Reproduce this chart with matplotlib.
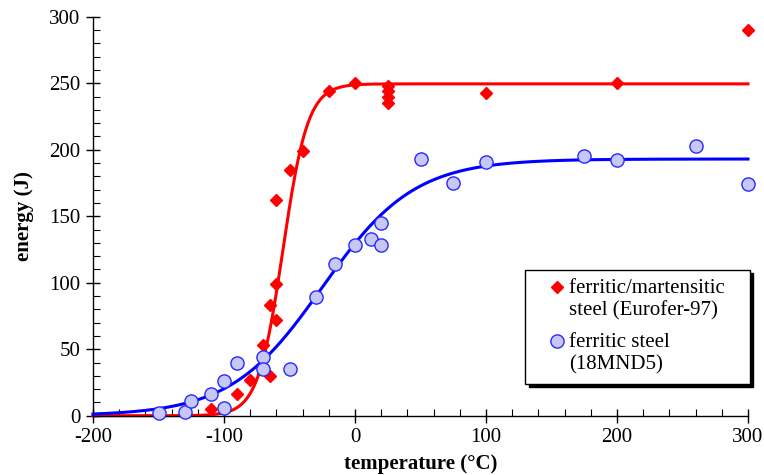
import numpy as np
import matplotlib
matplotlib.use("Agg")
import matplotlib.pyplot as plt
from matplotlib.ticker import MultipleLocator
from matplotlib.legend_handler import HandlerLine2D

# ---- data ----
red_T = [-110, -90, -80, -70, -65, -65, -60, -60, -60, -50, -40, -20, 0,
         25, 25, 25, 25, 100, 200, 300]
red_E = [5, 16, 27, 53, 30, 83, 99, 72, 162, 185, 199, 244, 250,
         248, 244, 240, 235, 243, 250, 290]

blue_T = [-150, -130, -125, -110, -100, -100, -90, -70, -70, -50, -30, -15,
          0, 12.5, 20, 20, 50, 75, 100, 175, 200, 260, 300]
blue_E = [2, 3, 11, 16, 26, 6, 40, 44, 35, 35, 89, 114,
          128, 133, 145, 128, 193, 175, 191, 195, 192, 203, 174]

# tanh fit parameters (lower shelf, upper shelf, transition T0, width C)
red_fit = dict(lower=0.0, upper=249.5, T0=-55.0, C=19.0)
blue_fit = dict(lower=0.0, upper=193.0, T0=-25.0, C=70.0)

labels = ["ferritic/martensitic   \nsteel (Eurofer-97)", "ferritic steel\n(18MND5)"]
xticks = [-200, -100, 0, 100, 200, 300]
yticks = [0, 50, 100, 150, 200, 250, 300]


def tanh_curve(T, p):
    a = (p["upper"] + p["lower"]) / 2
    b = (p["upper"] - p["lower"]) / 2
    return a + b * np.tanh((T - p["T0"]) / p["C"])


class TopHandler(HandlerLine2D):
    """Place the legend marker next to the first line of a two-line label."""
    def __init__(self, xshift, yshift, **kw):
        super().__init__(**kw)
        self.xshift = xshift
        self.yshift = yshift

    def create_artists(self, legend, orig_handle, xdescent, ydescent,
                       width, height, fontsize, trans):
        arts = super().create_artists(legend, orig_handle, xdescent, ydescent,
                                      width, height, fontsize, trans)
        for a in arts:
            y = np.asarray(a.get_ydata(), dtype=float)
            x = np.asarray(a.get_xdata(), dtype=float)
            a.set_ydata(y + self.yshift * fontsize)
            a.set_xdata(x + self.xshift * fontsize)
        return arts


plt.rcParams['font.family'] = ['Liberation Serif', 'DejaVu Serif']
plt.rcParams['axes.unicode_minus'] = False

fig = plt.figure(figsize=(7.64, 4.75), dpi=100)
ax = fig.add_axes([93 / 764, 1 - 415.7 / 475, (748 - 93) / 764, (415.7 - 16.7) / 475])

T = np.linspace(-200, 300, 600)
ax.plot(T, tanh_curve(T, red_fit), color='#ff0000', lw=2.2, zorder=2, clip_on=False)
red_pts, = ax.plot(red_T, red_E, 'D', color='#ff0000', ms=6.3, mec='#ff0000', zorder=3,
                   clip_on=False, label=labels[0])
ax.plot(T, tanh_curve(T, blue_fit), color='#0000ff', lw=2.2, zorder=4, clip_on=False)
blue_pts, = ax.plot(blue_T, blue_E, 'o', ms=9.5, mfc='#c8c8f8', mec='#2828ff', mew=1.0,
                    zorder=5, clip_on=False, label=labels[1])

ax.set_xlim(-200, 300)
ax.set_ylim(0, 300)
ax.set_xticks(xticks)
ax.set_yticks(yticks)
ax.xaxis.set_minor_locator(MultipleLocator(20))
ax.yaxis.set_minor_locator(MultipleLocator(10))

for s in ['top', 'right']:
    ax.spines[s].set_visible(False)
for s in ['left', 'bottom']:
    ax.spines[s].set_linewidth(1.0)

ax.tick_params(which='major', direction='inout', length=10, width=1.0,
               labelsize=15, pad=4)
ax.tick_params(which='minor', direction='in', length=5, width=0.8)

ax.set_xlabel('temperature (°C)', fontsize=15, fontweight='bold', labelpad=5)
ax.set_ylabel('energy (J)', fontsize=15, fontweight='bold', labelpad=11)

hm = {red_pts: TopHandler(0.33, 0.6), blue_pts: TopHandler(0.33, 0.6)}
leg = ax.legend(handles=[red_pts, blue_pts], handler_map=hm,
                loc='upper right', bbox_to_anchor=((750 - 93) / 655, (415.7 - 270) / 399),
                fontsize=15, frameon=True, fancybox=False,
                shadow={'color': 'black', 'alpha': 1.0, 'ox': 2.5, 'oy': -2.5},
                edgecolor='black', borderpad=0.45, handletextpad=0.15,
                handlelength=1.5, labelspacing=0.6, borderaxespad=0)
leg.get_frame().set_linewidth(1.0)

fig.savefig('out.png', dpi=100)
